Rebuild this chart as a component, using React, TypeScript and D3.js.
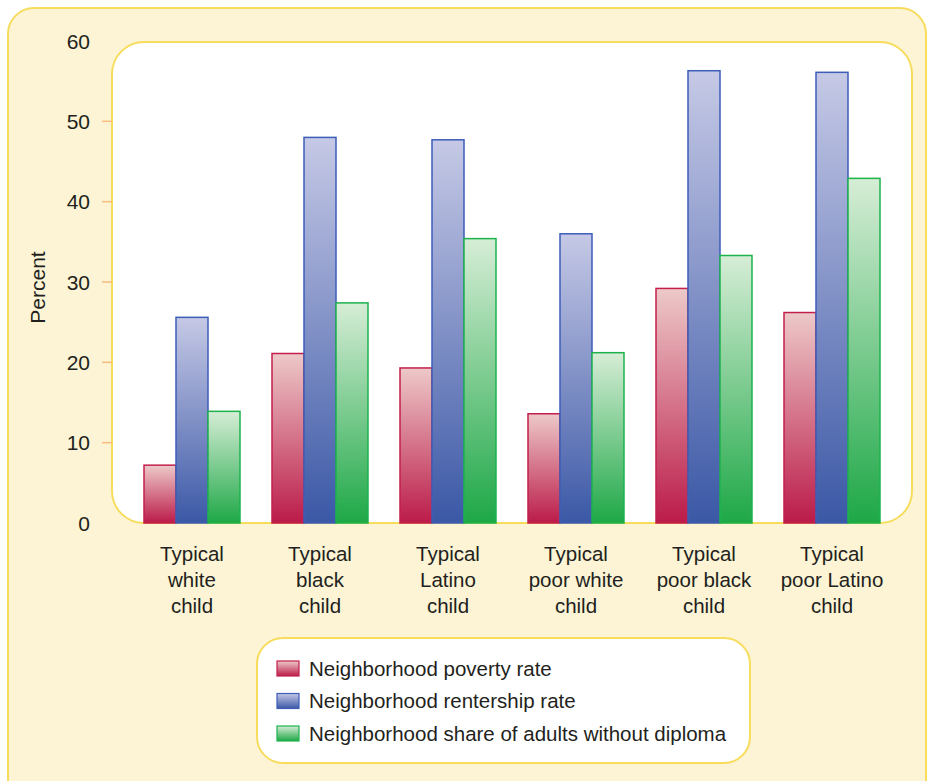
import * as d3 from 'd3';

const categories = [
  ['Typical', 'white', 'child'],
  ['Typical', 'black', 'child'],
  ['Typical', 'Latino', 'child'],
  ['Typical', 'poor white', 'child'],
  ['Typical', 'poor black', 'child'],
  ['Typical', 'poor Latino', 'child'],
];
const seriesNames = [
  'Neighborhood poverty rate',
  'Neighborhood rentership rate',
  'Neighborhood share of adults without diploma',
];
const povertyRate = [7.2, 21.1, 19.3, 13.6, 29.2, 26.2];
const rentershipRate = [25.6, 48.0, 47.7, 36.0, 56.3, 56.1];
const noDiploma = [13.9, 27.4, 35.4, 21.2, 33.3, 42.9];
const yTicks = [0, 10, 20, 30, 40, 50, 60];

const seriesValues = [povertyRate, rentershipRate, noDiploma];
const palette = [
  { top: '#edc9c9', bottom: '#bb1b49', stroke: '#c41f4c' },
  { top: '#c6c9e6', bottom: '#3b58a6', stroke: '#3c5db8' },
  { top: '#d6edd6', bottom: '#1ea847', stroke: '#1cb24c' },
];

const font = '"Liberation Sans", Arial, sans-serif';
const border = '#f8dc5c';
const ink = '#231f20';

export default function App() {
  const plot = { left: 112, top: 42, right: 912, bottom: 523 };
  const y = d3.scaleLinear().domain([0, 60]).range([plot.bottom, 41]);
  const x0 = d3
    .scaleBand()
    .domain(categories.map((_, i) => String(i)))
    .range([128, 896])
    .paddingInner(0.25)
    .paddingOuter(0.125);
  const x1 = d3
    .scaleBand()
    .domain(seriesNames)
    .range([0, x0.bandwidth()]);

  return (
    <svg
      width={928}
      height={781}
      style={{ position: 'absolute', left: 0, top: 0, fontFamily: font }}
    >
      <defs>
        {palette.map((p, i) => (
          <linearGradient key={i} id={'grad' + i} x1="0" y1="0" x2="0" y2="1">
            <stop offset="0%" stopColor={p.top} />
            <stop offset="100%" stopColor={p.bottom} />
          </linearGradient>
        ))}
      </defs>
      <rect x={8} y={8} width={918} height={800} rx={26} fill="#fcf4d5" stroke={border} strokeWidth={2} />
      <rect
        x={plot.left}
        y={plot.top}
        width={plot.right - plot.left}
        height={plot.bottom - plot.top}
        rx={32}
        fill="#fff"
        stroke={border}
        strokeWidth={2}
      />

      {/* y axis */}
      {yTicks.map((t) => (
        <g key={t}>
          {t > 0 && t < 60 && (
            <line x1={102} x2={112} y1={y(t)} y2={y(t)} stroke="#f6bd7c" strokeWidth={1.5} />
          )}
          <text x={90} y={y(t)} dy="0.36em" textAnchor="end" fontSize={21} fill={ink}>
            {t}
          </text>
        </g>
      ))}
      <text
        transform={`translate(45,${(plot.top + plot.bottom) / 2 + 5}) rotate(-90)`}
        textAnchor="middle"
        fontSize={21}
        fill={ink}
      >
        Percent
      </text>

      {/* bars */}
      {categories.map((_, ci) => (
        <g key={ci} transform={`translate(${x0(String(ci))},0)`}>
          {seriesNames.map((s, si) => {
            const v = seriesValues[si][ci];
            return (
              <rect
                key={s}
                x={x1(s)}
                y={y(v)}
                width={x1.bandwidth()}
                height={y(0) - y(v)}
                fill={`url(#grad${si})`}
                stroke={palette[si].stroke}
                strokeWidth={1.5}
              />
            );
          })}
        </g>
      ))}

      {/* x labels */}
      {categories.map((lines, ci) => (
        <text
          key={ci}
          x={x0(String(ci)) + x0.bandwidth() / 2}
          y={561}
          textAnchor="middle"
          fontSize={20.5}
          fill={ink}
        >
          {lines.map((l, li) => (
            <tspan key={li} x={x0(String(ci)) + x0.bandwidth() / 2} dy={li === 0 ? 0 : 26}>
              {l}
            </tspan>
          ))}
        </text>
      ))}

      {/* legend */}
      <rect x={257} y={638} width={493} height={125} rx={26} fill="#fff" stroke={border} strokeWidth={2} />
      {seriesNames.map((s, si) => (
        <g key={s} transform={`translate(277,${661 + si * 32.5})`}>
          <rect width={22} height={15} fill={`url(#grad${si})`} stroke={palette[si].stroke} strokeWidth={1.2} />
          <text x={32} y={7.5} dy="0.36em" fontSize={20.5} fill={ink}>
            {s}
          </text>
        </g>
      ))}
    </svg>
  );
}
